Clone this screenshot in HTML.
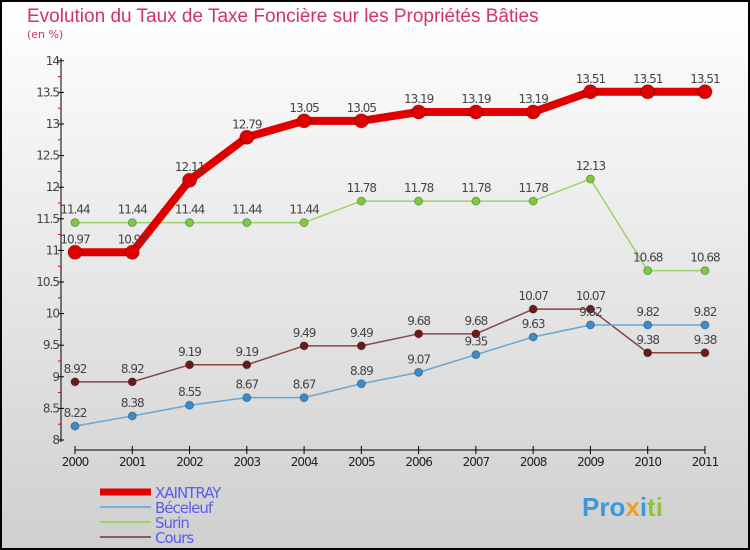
<!DOCTYPE html>
<html><head><meta charset="utf-8"><style>
body{margin:0}
#c{width:750px;height:550px;position:relative;overflow:hidden;font-family:"DejaVu Sans","Liberation Sans",sans-serif}
</style></head><body>
<div id="c">
<svg id="s" width="750" height="550" xmlns="http://www.w3.org/2000/svg">
<defs><linearGradient id="bg" x1="0" y1="0" x2="0" y2="1"><stop offset="0" stop-color="#ffffff"/><stop offset="1" stop-color="#cfcfcf"/></linearGradient></defs>
<rect x="1" y="1" width="748" height="548" fill="url(#bg)" stroke="#000" stroke-width="2"/>
<text x="27" y="22" font-size="19" fill="#d4306a" font-family="Liberation Sans, sans-serif">Evolution du Taux de Taxe Foncière sur les Propriétés Bâties</text>
<text x="27" y="38" font-size="11" fill="#d4306a">(en %)</text>
<g id="axes"></g><g id="series"></g>
<g id="legend"></g>
<text x="582" y="516" font-size="26" font-weight="bold" fill="#3a9ad9" font-family="Liberation Sans, sans-serif">Pro<tspan fill="#f0a020">x</tspan><tspan fill="#3a9ad9">i</tspan><tspan fill="#8cc63f">ti</tspan></text>
</svg></div>
<script>
const years=[2000,2001,2002,2003,2004,2005,2006,2007,2008,2009,2010,2011];
const yTicks=[8,8.5,9,9.5,10,10.5,11,11.5,12,12.5,13,13.5,14];
const xaintray=[10.97,10.97,12.11,12.79,13.05,13.05,13.19,13.19,13.19,13.51,13.51,13.51];
const beceleuf=[8.22,8.38,8.55,8.67,8.67,8.89,9.07,9.35,9.63,9.82,9.82,9.82];
const surin=[11.44,11.44,11.44,11.44,11.44,11.78,11.78,11.78,11.78,12.13,10.68,10.68];
const cours=[8.92,8.92,9.19,9.19,9.49,9.49,9.68,9.68,10.07,10.07,9.38,9.38];
const NS="http://www.w3.org/2000/svg";
const X=i=>75+i*57.27, Y=v=>440-(v-8)*63.2;
function mk(t,a,p){const e=document.createElementNS(NS,t);for(const k in a)e.setAttribute(k,a[k]);p.appendChild(e);return e;}
const ax=document.getElementById('axes');
let l=mk('line',{x1:61,y1:58,x2:61,y2:442,stroke:'#000'},ax);

for(let v=8;v<=14.001;v+=0.25){const maj=Math.abs(v*2-Math.round(v*2))<1e-6;
 mk('line',{x1:58,y1:Y(v),x2:maj?64:61,y2:Y(v),stroke:maj?'#000':'#e00'},ax);}
yTicks.forEach(v=>{const t=mk('text',{x:59,y:Y(v)+4,'font-size':12,'text-anchor':'end',fill:'#444','letter-spacing':'-1'},ax);t.textContent=String(v);
 });
l=mk('line',{x1:75,y1:450,x2:X(11),y2:450,stroke:'#000'},ax);

years.forEach((y,i)=>{mk('line',{x1:X(i),y1:446,x2:X(i),y2:454,stroke:'#000'},ax);
 const t=mk('text',{x:X(i),y:466,'font-size':12,'text-anchor':'middle',fill:'#222','letter-spacing':'-1'},ax);t.textContent=y;
 });
const sg=document.getElementById('series');
function draw(name,vals,color,w,r,dot){const g=mk('g',{},sg);
 
 mk('polyline',{points:vals.map((v,i)=>X(i)+','+Y(v)).join(' '),fill:'none',stroke:color,'stroke-width':w,'stroke-linejoin':'round'},g);
 vals.forEach((v,i)=>{const c=mk('circle',{cx:X(i),cy:Y(v),r:r,fill:dot,stroke:'rgba(0,0,0,0.3)'},g);
  
  const t=mk('text',{x:X(i),y:Y(v)-9,'font-size':12,'text-anchor':'middle',fill:'#444','letter-spacing':'-1'},g);t.textContent=v;
  });}
draw('surin',surin,'#9ad36a',1.5,4,'#7ccc3c');
draw('cours',cours,'#8b4545',1.5,4,'#6b1a1a');
draw('beceleuf',beceleuf,'#6aa6d2',1.5,4,'#3a8ccc');
draw('xaintray',xaintray,'#e00000',8,7,'#e00000');
const lg=document.getElementById('legend');
const items=[['XAINTRAY','#e00000',7],['Béceleuf','#7aaed6',2],['Surin','#9ad36a',2],['Cours','#8b5a5a',2]];
items.forEach((it,i)=>{const y=492+i*15;const g=mk('g',{},lg);
 
 mk('line',{x1:100,y1:y,x2:151,y2:y,stroke:it[1],'stroke-width':it[2]},g);
 const t=mk('text',{x:155,y:y+6,'font-size':15,fill:'#5c5cf0','letter-spacing':'-1'},g);t.textContent=it[0];});
</script>
</body></html>
